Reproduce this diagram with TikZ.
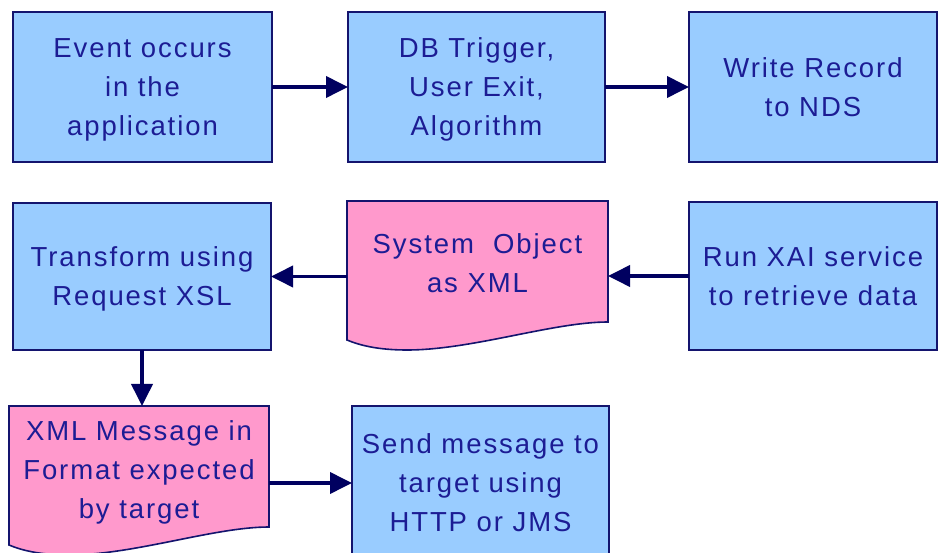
\documentclass[tikz,border=0pt]{standalone}
\usepackage{fontspec}
\setmainfont{Liberation Sans}[LetterSpace=7]
\usetikzlibrary{arrows.meta,calc}
\definecolor{boxblue}{HTML}{99CCFF}
\definecolor{docpink}{HTML}{FF99CC}
\definecolor{edge}{HTML}{14146E}
\definecolor{arrowc}{HTML}{000060}
\definecolor{txt}{HTML}{1C1C94}
\begin{document}
\begin{tikzpicture}[x=1pt,y=-1pt,
  every node/.style={inner sep=0pt,outer sep=0pt,align=center,text=txt,text depth=0pt,
    font=\fontsize{27.5}{39}\selectfont},
  procbox/.style={draw=edge,line width=1.6pt,fill=boxblue,rectangle},
  docarea/.style={rectangle},
  docshape/.style={draw=edge,line width=1.6pt,fill=docpink},
  arr/.style={draw=arrowc,line width=3.8pt,-{Triangle[length=22pt,width=21pt]}}
]
\useasboundingbox (0,0) rectangle (938,553);
\clip (0,0) rectangle (938,553);
\fill[white] (0,0) rectangle (938,553);

% row 1
\node[procbox,minimum width=259pt,minimum height=150pt] (ev) at (142.5,87) {Event occurs\\in the\\application};
\node[procbox,minimum width=257pt,minimum height=150pt] (db) at (476.5,87) {DB Trigger,\\User Exit,\\Algorithm};
\node[procbox,minimum width=248pt,minimum height=150pt] (wr) at (813,87) {Write Record\\to NDS};

% row 2
\node[procbox,minimum width=258pt,minimum height=147pt] (tr) at (142,276.5) {Transform using\\Request XSL};
\node[procbox,minimum width=248pt,minimum height=148pt] (xai) at (813,276) {Run XAI service\\to retrieve data};

% System Object document
\node[docarea,minimum width=261pt,minimum height=121pt] (so) at (477.5,261.5) {};
\draw[docshape] (so.north west) -- (so.north east) -- (so.south east)
  .. controls ($(so.south east)+(-55,0)$) and ($(so.south west)+(125,28)$) .. ($(so.south west)+(60,28)$)
  .. controls ($(so.south west)+(30,28)$) and ($(so.south west)+(12,23)$) .. ($(so.south west)+(0,18)$)
  -- cycle;
\node at ($(so)+(0,2)$) {System \ Object\\as XML};

% row 3
\node[docarea,minimum width=260pt,minimum height=121pt] (xml) at (139,466.5) {};
\draw[docshape] (xml.north west) -- (xml.north east) -- (xml.south east)
  .. controls ($(xml.south east)+(-55,0)$) and ($(xml.south west)+(125,28)$) .. ($(xml.south west)+(60,28)$)
  .. controls ($(xml.south west)+(30,28)$) and ($(xml.south west)+(12,23)$) .. ($(xml.south west)+(0,18)$)
  -- cycle;
\node at ($(xml)+(0,3)$) {XML Message in\\Format expected\\by target};

\node[procbox,minimum width=257pt,minimum height=154pt] (send) at (480.5,483) {Send message to\\target using\\HTTP or JMS};

% connectors
\draw[arr] (ev.east) -- (db.west);
\draw[arr] (db.east) -- (wr.west);
\draw[arr] (xai.west) -- (xai.west -| so.east);
\draw[arr] (so.west |- tr.east) -- (tr.east);
\draw[arr] (tr.south) -- (tr.south |- xml.north);
\draw[arr] (xml.east |- send.west) -- (send.west);
\end{tikzpicture}
\end{document}
